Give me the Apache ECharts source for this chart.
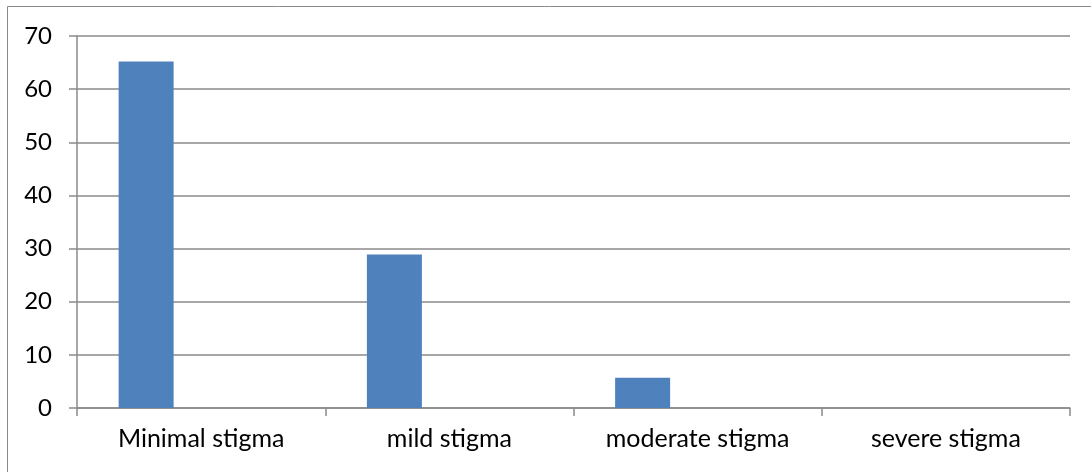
<!DOCTYPE html>
<html><head><meta charset="utf-8">
<script src="https://cdn.jsdelivr.net/npm/echarts@6/dist/echarts.min.js"></script>
<style>html,body{margin:0;padding:0;background:#fff}#c{width:1091px;height:472px}</style>
</head><body><div id="c"></div>
<script>
const categories = ['Minimal stigma', 'mild stigma', 'moderate stigma', 'severe stigma'];
const series1 = [65.2, 28.9, 5.7, 0];
const series2 = [null, null, null, null];
const series3 = [null, null, null, null];
const yTicks = { min: 0, max: 70, interval: 10 };

const chart = echarts.init(document.getElementById('c'), null, { renderer: 'canvas' });
const font = 'Lato, "Open Sans", sans-serif';
const barStyle = { color: '#4f81bd' };
chart.setOption({
  animation: false,
  graphic: [{ type: 'rect', shape: { x: 7.5, y: 6.5, width: 1200, height: 600 }, style: { fill: 'none', stroke: '#8a8a8a', lineWidth: 1 }, silent: true, z: -1 }],
  grid: { left: 77, right: 21, top: 36, bottom: 64, containLabel: false },
  xAxis: {
    type: 'category', data: categories,
    axisLine: { lineStyle: { color: '#8a8a8a', width: 1.5 } },
    axisTick: { show: true, length: 8, lineStyle: { color: '#8a8a8a', width: 1.5 } },
    axisLabel: { color: '#000', fontSize: 25, fontFamily: font, margin: 18 }
  },
  yAxis: {
    type: 'value', min: yTicks.min, max: yTicks.max, interval: yTicks.interval,
    axisLine: { show: true, lineStyle: { color: '#8a8a8a', width: 1.5 } },
    axisTick: { show: true, length: 8, lineStyle: { color: '#8a8a8a', width: 1.5 } },
    splitLine: { lineStyle: { color: '#8a8a8a', width: 1.5 } },
    axisLabel: { color: '#000', fontSize: 24, fontFamily: font, margin: 25 }
  },
  series: [
    { type: 'bar', data: series1, barWidth: 55, barGap: '0%', itemStyle: barStyle },
    { type: 'bar', data: series2, barWidth: 55, barGap: '0%', itemStyle: barStyle },
    { type: 'bar', data: series3, barWidth: 55, barGap: '0%', itemStyle: barStyle }
  ]
});
</script></body></html>
